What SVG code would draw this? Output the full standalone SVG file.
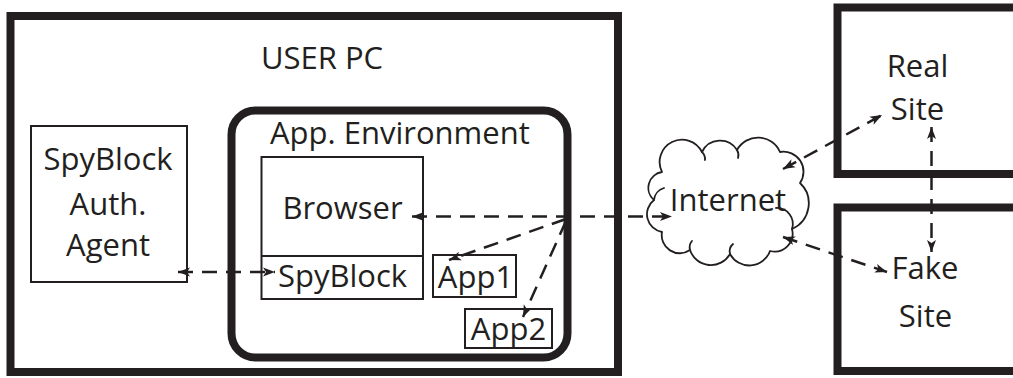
<svg xmlns="http://www.w3.org/2000/svg" width="1013" height="378" viewBox="0 0 1013 378">
  <style>
    .lbl { font-family: "Open Sans", "Noto Sans", "Liberation Sans", sans-serif; font-size: 31px; fill: #231f20; text-anchor: middle; }
    .heavy { fill: #ffffff; stroke: #231f20; stroke-width: 8; }
    .thin { fill: #ffffff; stroke: #231f20; stroke-width: 2; }
    .cloud { fill: #ffffff; stroke: #231f20; stroke-width: 1.8; stroke-linejoin: round; }
    .hook { fill: none; stroke: #231f20; stroke-width: 1.8; stroke-linecap: round; }
    .link { fill: none; stroke: #231f20; stroke-width: 2.5; stroke-dasharray: 15 9; marker-start: url(#head); marker-end: url(#head); }
    .oneway { marker-start: none; }
  </style>
  <defs>
    <marker id="head" markerUnits="userSpaceOnUse" markerWidth="14" markerHeight="12" viewBox="-12 -6 13 12" refX="0" refY="0" orient="auto-start-reverse">
      <path d="M0,0 L-12,-4.5 L-9,0 L-12,4.5 Z" fill="#231f20"/>
    </marker>
  </defs>

  <rect width="1013" height="378" fill="#ffffff"/>

  <!-- user machine -->
  <g id="user-pc">
    <rect class="heavy" x="10.5" y="16" width="607.5" height="356"/>
    <text class="lbl" x="322" y="69">USER PC</text>
  </g>

  <g id="auth-agent">
    <rect class="thin" x="31" y="126" width="156" height="156"/>
    <text class="lbl" x="108" y="170">SpyBlock</text>
    <text class="lbl" x="108" y="215">Auth.</text>
    <text class="lbl" x="108" y="256">Agent</text>
  </g>

  <g id="app-environment">
    <rect class="heavy" x="231.5" y="110.5" width="336" height="247" rx="24" ry="24"/>
    <text class="lbl" x="270" y="144" style="text-anchor: start">App. Environment</text>
  </g>

  <g id="browser">
    <rect class="thin" x="261.5" y="157" width="161.5" height="142"/>
    <text class="lbl" x="342.5" y="219">Browser</text>
  </g>

  <g id="spyblock">
    <line x1="261.5" y1="256" x2="423" y2="256" stroke="#231f20" stroke-width="2"/>
    <text class="lbl" x="342.5" y="287">SpyBlock</text>
  </g>

  <g id="app1">
    <rect class="thin" x="433" y="255" width="83" height="42"/>
    <text class="lbl" x="475.5" y="288">App1</text>
  </g>

  <g id="app2">
    <rect class="thin" x="465" y="309" width="87" height="39"/>
    <text class="lbl" x="508.5" y="340">App2</text>
  </g>

  <!-- internet cloud -->
  <g id="internet">
    <path class="cloud" d="M662,172 A22,22 0 0,1 702,152 A20,20 0 0,1 737,150 A24,24 0 0,1 780,152 A20,20 0 0,1 800,183 A28,28 0 0,1 792,229 A18,18 0 0,1 770,251 A22,22 0 0,1 730,254 A22,22 0 0,1 690,250 A18,18 0 0,1 662,232 A18,18 0 0,1 654,200 A16,16 0 0,1 662,172 Z"/>
    <path class="hook" d="M776,208 A16,16 0 0,1 792,229"/>
    <path class="hook" d="M654,200 A14,14 0 0,1 664,188"/>
    <path class="hook" d="M730,254 A10,10 0 0,1 733,244"/>
    <path class="hook" d="M690,250 A10,10 0 0,1 692,241"/>
    <path class="hook" d="M702,152 A10,10 0 0,1 705,160"/>
    <path class="hook" d="M737,150 A10,10 0 0,1 738,158"/>
    <text class="lbl" x="728" y="211">Internet</text>
  </g>

  <!-- remote sites -->
  <g id="real-site">
    <rect class="heavy" x="837.5" y="7.5" width="190" height="166.5"/>
    <text class="lbl" x="917.5" y="77">Real</text>
    <text class="lbl" x="917.5" y="120">Site</text>
  </g>

  <g id="fake-site">
    <rect class="heavy" x="837.5" y="207.5" width="190" height="163.5"/>
    <text class="lbl" x="925" y="279">Fake</text>
    <text class="lbl" x="925.5" y="327">Site</text>
  </g>

  <!-- data flows -->
  <g id="connectors">
    <line class="link" x1="412" y1="216.5" x2="672" y2="216.5"/>
    <line class="link oneway" x1="566" y1="219" x2="449" y2="260"/>
    <line class="link oneway" x1="566" y1="221" x2="523" y2="317"/>
    <line class="link" x1="178" y1="272" x2="275" y2="272"/>
    <line class="link" x1="783" y1="169" x2="882" y2="115"/>
    <line class="link" x1="783" y1="237" x2="887" y2="272"/>
    <line class="link" x1="931.5" y1="127" x2="931.5" y2="252"/>
  </g>
</svg>
